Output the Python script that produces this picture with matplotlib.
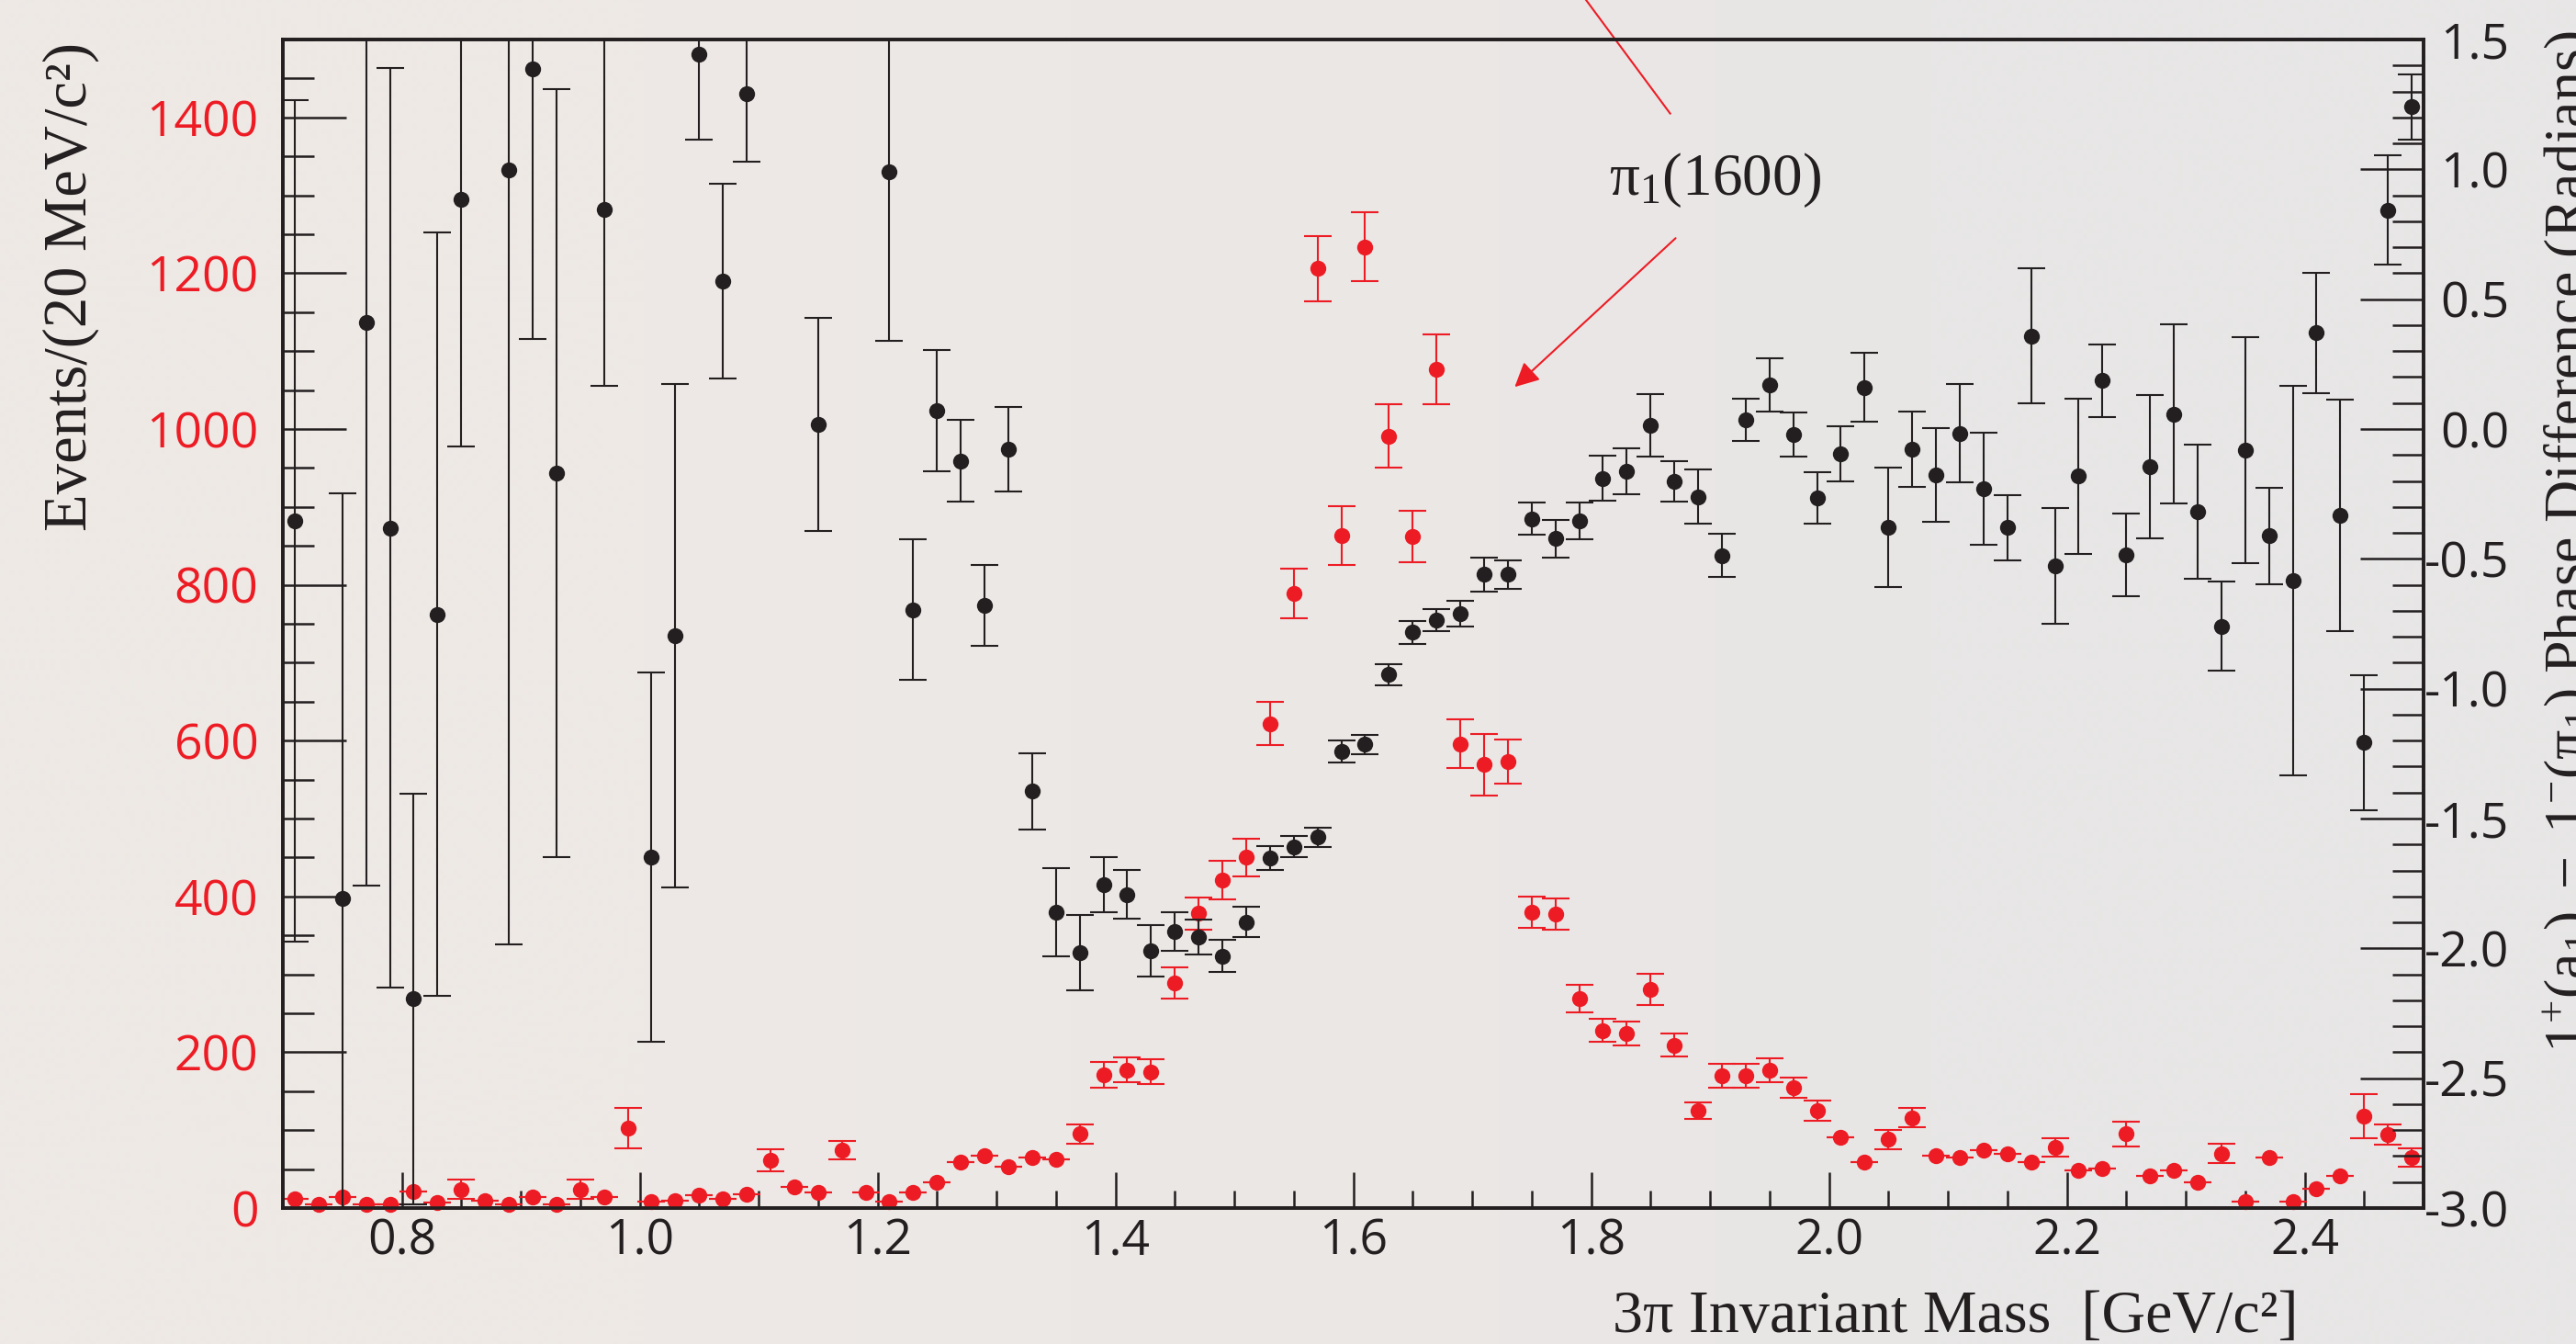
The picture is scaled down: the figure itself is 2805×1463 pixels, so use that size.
import numpy as np
import matplotlib
matplotlib.use('Agg')
import matplotlib.pyplot as plt
from matplotlib.ticker import MultipleLocator, FormatStrFormatter, FixedLocator
from matplotlib.lines import Line2D

RED = '#ED1C24'
BLK = '#231F20'

# ---------------- data ----------------
mass = [0.71, 0.73, 0.75, 0.77, 0.79, 0.81, 0.83, 0.85, 0.87, 0.89,
        0.91, 0.93, 0.95, 0.97, 0.99, 1.01, 1.03, 1.05, 1.07, 1.09,
        1.11, 1.13, 1.15, 1.17, 1.19, 1.21, 1.23, 1.25, 1.27, 1.29,
        1.31, 1.33, 1.35, 1.37, 1.39, 1.41, 1.43, 1.45, 1.47, 1.49,
        1.51, 1.53, 1.55, 1.57, 1.59, 1.61, 1.63, 1.65, 1.67, 1.69,
        1.71, 1.73, 1.75, 1.77, 1.79, 1.81, 1.83, 1.85, 1.87, 1.89,
        1.91, 1.93, 1.95, 1.97, 1.99, 2.01, 2.03, 2.05, 2.07, 2.09,
        2.11, 2.13, 2.15, 2.17, 2.19, 2.21, 2.23, 2.25, 2.27, 2.29,
        2.31, 2.33, 2.35, 2.37, 2.39, 2.41, 2.43, 2.45, 2.47, 2.49]

events = [12, 5, 14, 5, 5, 21, 7, 24, 10, 5,
          14, 5, 24, 14, 103, 8, 10, 16, 12, 18,
          61, 27, 20, 74, 20, 8, 20, 33, 59, 67,
          53, 65, 63, 95, 171, 177, 175, 289, 378, 421,
          450, 622, 789, 1206, 863, 1234, 991, 862, 1077, 596,
          569, 573, 380, 377, 269, 228, 224, 281, 209, 125,
          170, 170, 177, 154, 125, 91, 59, 88, 116, 67,
          65, 74, 69, 59, 78, 48, 51, 95, 41, 48,
          33, 70, 8, 65, 8, 25, 41, 118, 94, 65]

events_err = [0, 0, 0, 0, 0, 0, 0, 12, 0, 0,
              0, 0, 12, 0, 26, 0, 0, 0, 0, 0,
              14, 0, 0, 12, 0, 0, 0, 0, 0, 0,
              0, 0, 0, 12, 17, 16, 16, 20, 21, 25,
              24, 28, 32, 42, 38, 44, 41, 33, 45, 31,
              40, 28, 20, 20, 18, 15, 15, 20, 15, 11,
              15, 15, 15, 13, 13, 0, 0, 12, 12, 0,
              0, 0, 0, 0, 12, 0, 0, 16, 0, 0,
              0, 12, 0, 0, 0, 0, 0, 28, 13, 12]

phase_mass = [0.71, 0.75, 0.77, 0.79, 0.81, 0.83, 0.85, 0.89, 0.91, 0.93,
              0.97, 1.01, 1.03, 1.05, 1.07, 1.09, 1.15, 1.21, 1.23, 1.25,
              1.27, 1.29, 1.31, 1.33, 1.35, 1.37, 1.39, 1.41, 1.43, 1.45,
              1.47, 1.49, 1.51, 1.53, 1.55, 1.57, 1.59, 1.61, 1.63, 1.65,
              1.67, 1.69, 1.71, 1.73, 1.75, 1.77, 1.79, 1.81, 1.83, 1.85,
              1.87, 1.89, 1.91, 1.93, 1.95, 1.97, 1.99, 2.01, 2.03, 2.05,
              2.07, 2.09, 2.11, 2.13, 2.15, 2.17, 2.19, 2.21, 2.23, 2.25,
              2.27, 2.29, 2.31, 2.33, 2.35, 2.37, 2.39, 2.41, 2.43, 2.45,
              2.47, 2.49]

phase = [-0.354, -1.807, 0.41, -0.381, -2.195, -0.713, 0.884, 0.997, 1.388, -0.170,
         0.847, -1.649, -0.796, 1.443, 0.569, 1.291, 0.017, 0.989, -0.696, 0.070,
         -0.123, -0.680, -0.077, -1.395, -1.861, -2.017, -1.755, -1.792, -2.010, -1.936,
         -1.957, -2.029, -1.898, -1.652, -1.608, -1.572, -1.241, -1.215, -0.946, -0.783,
         -0.736, -0.711, -0.560, -0.560, -0.345, -0.422, -0.354, -0.190, -0.163, 0.013,
         -0.202, -0.261, -0.487, 0.035, 0.169, -0.020, -0.266, -0.095, 0.160, -0.380,
         -0.077, -0.176, -0.016, -0.231, -0.380, 0.358, -0.528, -0.182, 0.186, -0.485,
         -0.146, 0.058, -0.319, -0.759, -0.081, -0.412, -0.584, 0.370, -0.333, -1.208,
         0.843, 1.241]

phase_err = [1.62, 1.56, 2.17, 1.77, 0.79, 1.47, 0.95, 2.98, 1.04, 1.48,
             0.68, 0.71, 0.97, 0.33, 0.375, 0.26, 0.41, 0.65, 0.27, 0.233,
             0.158, 0.155, 0.163, 0.146, 0.169, 0.146, 0.105, 0.094, 0.10, 0.075,
             0.067, 0.062, 0.058, 0.047, 0.041, 0.037, 0.042, 0.037, 0.042, 0.044,
             0.042, 0.05, 0.066, 0.055, 0.062, 0.073, 0.07, 0.087, 0.087, 0.12,
             0.079, 0.104, 0.082, 0.082, 0.103, 0.085, 0.098, 0.107, 0.133, 0.23,
             0.145, 0.18, 0.19, 0.216, 0.125, 0.26, 0.223, 0.30, 0.141, 0.16,
             0.276, 0.344, 0.258, 0.17, 0.434, 0.185, 0.75, 0.233, 0.446, 0.26,
             0.21, 0.125]

left_ticks = [0, 200, 400, 600, 800, 1000, 1200, 1400]
right_ticks = [-3.0, -2.5, -2.0, -1.5, -1.0, -0.5, 0.0, 0.5, 1.0, 1.5]
x_ticks = [0.8, 1.0, 1.2, 1.4, 1.6, 1.8, 2.0, 2.2, 2.4]

# ---------------- style ----------------
plt.rcParams['axes.unicode_minus'] = False
plt.rcParams['mathtext.fontset'] = 'custom'
plt.rcParams['mathtext.rm'] = 'Liberation Serif'
plt.rcParams['mathtext.it'] = 'Liberation Serif:italic'
plt.rcParams['mathtext.bf'] = 'Liberation Serif:bold'

TICKFONT = ['Open Sans', 'DejaVu Sans']
SERIF = ['Liberation Serif', 'DejaVu Serif']

W, H = 2805, 1463
fig = plt.figure(figsize=(W / 100, H / 100), dpi=100)

# background with a slight horizontal tint gradient
bg = fig.add_axes([0, 0, 1, 1], zorder=-10)
grad = np.array([[[238, 233, 229], [232, 230, 230]]]) / 255.0
bg.imshow(grad, aspect='auto', extent=[0, 1, 0, 1], interpolation='bilinear')
bg.set_axis_off()

L, R, T, B = 308, 2639, 43, 1315
ax = fig.add_axes([L / W, 1 - B / H, (R - L) / W, (B - T) / H])
ax.patch.set_alpha(0)
ax2 = ax.twinx()
ax2.patch.set_alpha(0)

# red intensity (left axis)
ax.errorbar(mass, events, yerr=events_err, fmt='none', ecolor=RED,
            elinewidth=1.5, capsize=11, capthick=1.5, zorder=2)
ax.plot(mass, events, 'o', color=RED, ms=12.5, mec='none', zorder=3, clip_on=False)

# black phase difference (right axis)
ax2.errorbar(phase_mass, phase, yerr=phase_err, fmt='none', ecolor=BLK,
             elinewidth=1.5, capsize=10.5, capthick=1.5, zorder=2)
ax2.plot(phase_mass, phase, 'o', color=BLK, ms=12.5, mec='none', zorder=3)

ax.set_xlim(0.70, 2.50)
ax.set_ylim(0, 1500)
ax2.set_ylim(-3.0, 1.5)

for a in (ax, ax2):
    for sp in a.spines.values():
        sp.set_linewidth(2.6)
        sp.set_color(BLK)

# x ticks
ax.xaxis.set_major_locator(FixedLocator(x_ticks))
ax.xaxis.set_minor_locator(MultipleLocator(0.05))
ax.xaxis.set_major_formatter(FormatStrFormatter('%.1f'))
ax.tick_params(axis='x', which='major', direction='in', length=28, width=1.8,
               color=BLK, labelcolor=BLK, labelsize=38.5, pad=7, top=False)
ax.tick_params(axis='x', which='minor', direction='in', length=14, width=1.8,
               color=BLK, top=False)

# left y ticks
ax.yaxis.set_major_locator(FixedLocator(left_ticks))
ax.yaxis.set_minor_locator(MultipleLocator(50))
ax.tick_params(axis='y', which='major', direction='in', length=50, width=1.8,
               color=BLK, labelcolor=RED, labelsize=38.5, pad=19, right=False)
ax.tick_params(axis='y', which='minor', direction='in', length=24.5, width=1.8,
               color=BLK, right=False)

# right y ticks
ax2.yaxis.set_major_locator(FixedLocator(right_ticks))
ax2.yaxis.set_minor_locator(MultipleLocator(0.1))
ax2.yaxis.set_major_formatter(FormatStrFormatter('%.1f'))
ax2.tick_params(axis='y', which='major', direction='in', length=50, width=1.8,
                color=BLK, labelcolor=BLK, labelsize=38.5, pad=67)
ax2.tick_params(axis='y', which='minor', direction='in', length=24.5, width=1.8,
                color=BLK)

for lbl in ax.get_xticklabels() + ax.get_yticklabels() + ax2.get_yticklabels():
    lbl.set_family(TICKFONT)
for lbl in ax2.get_yticklabels():
    lbl.set_ha('right')

# axis titles
fig.text(77 / W, 1 - 312 / H, 'Events/(20 MeV/c²)', rotation=90,
         ha='center', va='center', fontsize=48, family=SERIF, color=BLK)
fig.text(2503 / W, 1 - 1450 / H, '3π Invariant Mass  [GeV/c²]',
         ha='right', va='baseline', fontsize=47.5, family=SERIF, color=BLK)
fig.text(2768 / W, 1 - 589 / H,
         r'$\mathrm{1^{+}(a_{1})\ -\ 1^{-}(π_{1})\ Phase\ Difference\ (Radians)}$',
         rotation=90, ha='left', va='center', fontsize=46, color=BLK)

# annotation
fig.text(1752 / W, 1 - 212 / H, r'$\mathrm{π_{1}(1600)}$', ha='left',
         va='baseline', fontsize=47, color=BLK)
ax.annotate('', xy=(1.7358, 1054), xytext=(1.8711, 1245),
            arrowprops=dict(arrowstyle='-|>,head_length=1.6,head_width=0.8',
                            color=RED, lw=1.5, shrinkA=0, shrinkB=0))
ax.add_line(Line2D([1.7937, 1.8665], [1555, 1405], color=RED, lw=1.5,
                   clip_on=False))

fig.savefig('out.png', dpi=100)
